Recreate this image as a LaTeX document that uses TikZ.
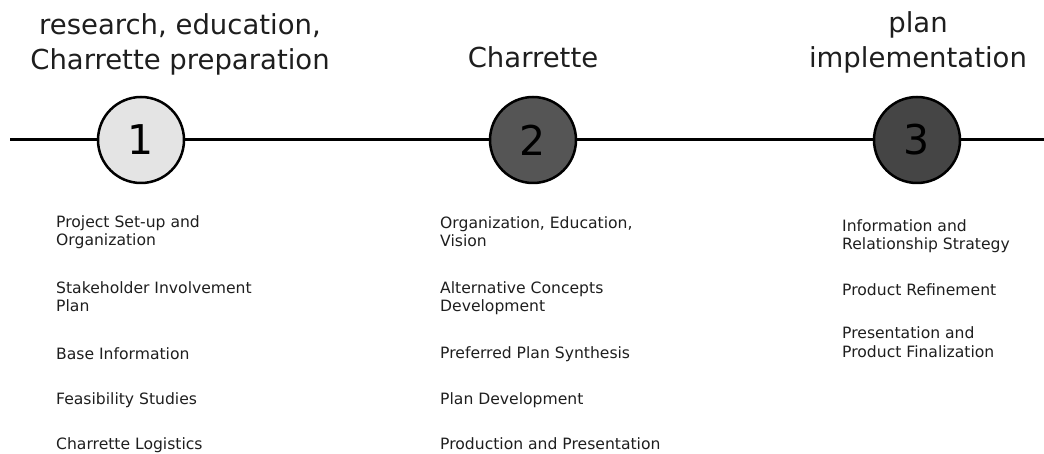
\documentclass[tikz,border=0pt]{standalone}
\usepackage{fontspec}
\setmainfont{DejaVu Sans}
\definecolor{textgray}{HTML}{1E1E1E}
\definecolor{lightfill}{HTML}{E4E4E4}
\definecolor{midfill}{HTML}{555555}
\definecolor{darkfill}{HTML}{454545}
\begin{document}
\begin{tikzpicture}[x=1pt,y=-1pt,
  stage/.style={circle, draw=black, line width=2.5pt, minimum size=86pt, inner sep=0pt,
    font=\fontsize{41}{41}\selectfont},
  phase/.style={align=center, anchor=base, inner sep=0pt, text=textgray,
    font=\fontsize{27.5}{35}\selectfont},
  item/.style={align=left, anchor=base west, inner sep=0pt, text=textgray,
    font=\fontsize{15.6}{18.5}\selectfont},
  timeline/.style={line width=3pt, draw=black}]
\useasboundingbox (0,0) rectangle (1044,454);

% stages
\node[stage, fill=lightfill] (c1) at (141,140) {1};
\node[stage, fill=midfill]   (c2) at (533,140) {2};
\node[stage, fill=darkfill]  (c3) at (917,140) {3};

\coordinate (L) at (10,140);
\coordinate (R) at (1044,140);
\draw[timeline] (L) -- (c1);
\draw[timeline] (c1) -- (c2);
\draw[timeline] (c2) -- (c3);
\draw[timeline] (c3) -- (R);

% phase titles (anchor = baseline of last line)
\node[phase] (t1) at (180,70) {research, education,\\Charrette preparation};
\node[phase] (t2) at (533,68) {Charrette};
\node[phase] (t3) at (918,68) {plan\\implementation};

% column 1
\node[item] (a1) at (56,246) {Project Set-up and\\Organization};
\node[item] (a2) at (56,312) {Stakeholder Involvement\\Plan};
\node[item] (a3) at (56,359) {Base Information};
\node[item] (a4) at (56,404) {Feasibility Studies};
\node[item] (a5) at (56,449) {Charrette Logistics};

% column 2
\node[item] (b1) at (440,247) {Organization, Education,\\Vision};
\node[item] (b2) at (440,312) {Alternative Concepts\\Development};
\node[item] (b3) at (440,358) {Preferred Plan Synthesis};
\node[item] (b4) at (440,404) {Plan Development};
\node[item] (b5) at (440,449) {Production and Presentation};

% column 3
\node[item] (d1) at (842,250) {Information and\\Relationship Strategy};
\node[item] (d2) at (842,295) {Product Refinement};
\node[item] (d3) at (842,357) {Presentation and\\Product Finalization};
\end{tikzpicture}
\end{document}
